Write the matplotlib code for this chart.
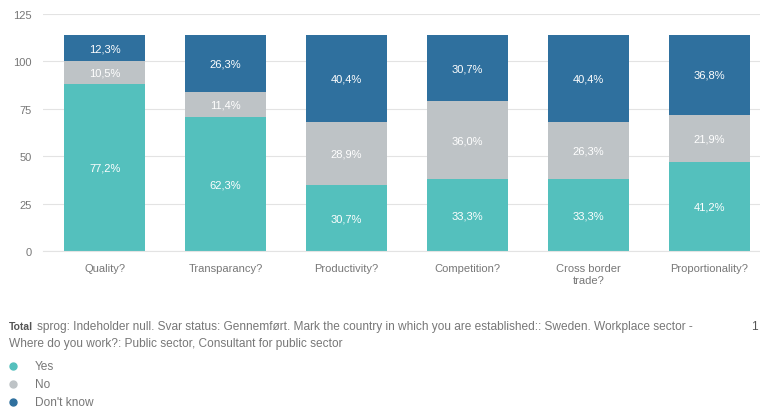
import matplotlib
matplotlib.use("Agg")
import matplotlib.pyplot as plt
import numpy as np

plt.rcParams["font.family"] = ["Liberation Sans", "DejaVu Sans"]

# counts out of 114 respondents
categories = ["Quality?", "Transparancy?", "Productivity?", "Competition?",
              "Cross border\ntrade?", "Proportionality?"]
yes = [88, 71, 35, 38, 38, 47]
no = [12, 13, 33, 41, 30, 25]
dont_know = [14, 30, 46, 35, 46, 42]
yes_pct = ["77,2%", "62,3%", "30,7%", "33,3%", "33,3%", "41,2%"]
no_pct = ["10,5%", "11,4%", "28,9%", "36,0%", "26,3%", "21,9%"]
dk_pct = ["12,3%", "26,3%", "40,4%", "30,7%", "40,4%", "36,8%"]
series_names = ["Yes", "No", "Don't know"]
colors = ["#54C0BD", "#BEC3C6", "#2F709E"]
yticks = [0, 25, 50, 75, 100, 125]

fig = plt.figure(figsize=(7.6, 4.14), dpi=100)
ax = fig.add_axes([0.0566, 0.3901, 0.9434, 0.5737])

x = np.arange(len(categories))
width = 0.67
bottom = np.zeros(len(categories))
for vals, labels, col in zip([yes, no, dont_know], [yes_pct, no_pct, dk_pct], colors):
    vals = np.array(vals, dtype=float)
    ax.bar(x, vals, width, bottom=bottom, color=col, zorder=2)
    for xi, b, v, lab in zip(x, bottom, vals, labels):
        ax.text(xi, b + v / 2, lab, ha="center", va="center", color="white",
                fontsize=8, zorder=3)
    bottom += vals

ax.set_xlim(-0.51, 5.42)
ax.set_ylim(0, 125)
ax.set_yticks(yticks)
ax.set_yticklabels([str(t) for t in yticks])
ax.yaxis.grid(True, color="#E3E3E3", linewidth=0.8, zorder=0)
ax.set_axisbelow(True)
for s in ax.spines.values():
    s.set_visible(False)
ax.spines["bottom"].set_visible(True)
ax.spines["bottom"].set_color("#E3E3E3")
ax.tick_params(axis="both", length=0, labelsize=8, colors="#777777")
ax.tick_params(axis="y", pad=8)
ax.tick_params(axis="x", pad=8)
ax.set_xticks(x)
ax.set_xticklabels(categories, linespacing=1.3)

# footnote
fs = 8.6
fig.text(0.012, 1 - 327 / 414, "Total", fontsize=7.5, color="#555555",
         fontweight="bold", va="center")
fig.text(37 / 760, 1 - 327 / 414,
         "sprog: Indeholder null. Svar status: Gennemført. Mark the country in which you are established:: Sweden. Workplace sector -",
         fontsize=fs, color="#777777", va="center")
fig.text(0.012, 1 - 344 / 414,
         "Where do you work?: Public sector, Consultant for public sector",
         fontsize=fs, color="#777777", va="center")
fig.text(0.988, 1 - 327 / 414, "1", fontsize=fs, color="#555555", va="center")

# legend
for i, (name, col) in enumerate(zip(series_names, colors)):
    yy = 1 - (367 + 18 * i) / 414
    fig.lines.append(plt.Line2D([13 / 760], [yy], marker="o", markersize=5,
                                color=col, linestyle="none",
                                transform=fig.transFigure))
    fig.text(35 / 760, yy, name, fontsize=fs, color="#777777", va="center")

fig.savefig("out.png", dpi=100)
